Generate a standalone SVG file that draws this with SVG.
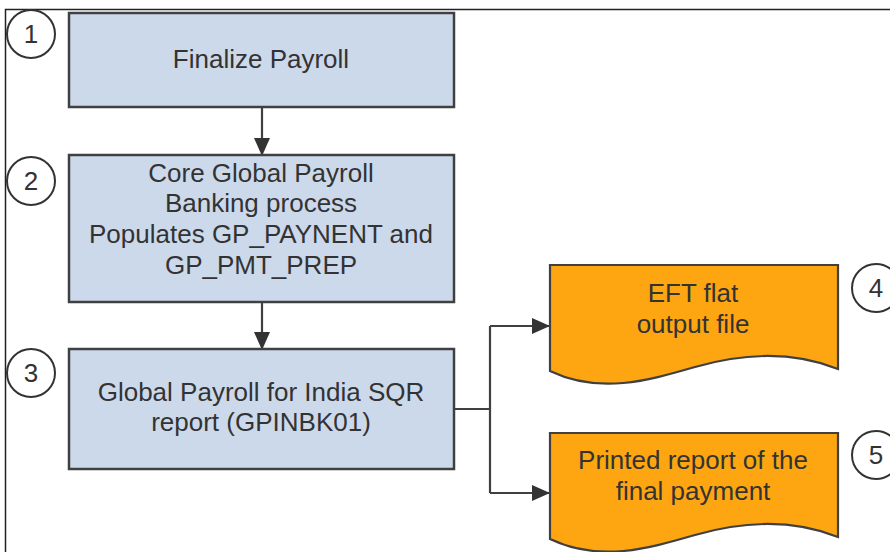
<svg xmlns="http://www.w3.org/2000/svg" width="890" height="552" viewBox="0 0 890 552">
<defs>
<style>
.box{fill:#CCD9EB;stroke:#404040;stroke-width:2.5}
.doc{fill:#FDA612;stroke:#404040;stroke-width:2.2}
.t{font-family:"Liberation Sans",Arial,sans-serif;font-size:26px;fill:#333333;text-anchor:middle}
.num{font-family:"Liberation Sans",Arial,sans-serif;font-size:26px;fill:#333333;text-anchor:middle}
.circ{fill:#ffffff;stroke:#333333;stroke-width:2}
.conn{fill:none;stroke:#404040;stroke-width:2.2}
</style>
<marker id="arr" markerUnits="userSpaceOnUse" markerWidth="18" markerHeight="18" viewBox="0 0 18 18" refX="17" refY="9" orient="auto">
<path d="M0,1 L18,9 L0,17 Z" fill="#333333"/>
</marker>
</defs>
<rect width="890" height="552" fill="#ffffff"/>
<path d="M5.5,552 V9.5 H890" fill="none" stroke="#222222" stroke-width="1.5"/>

<g id="connectors">
<path class="conn" d="M262,107 V155" marker-end="url(#arr)"/>
<path class="conn" d="M262,302 V349" marker-end="url(#arr)"/>
<path class="conn" d="M454,409 H490"/>
<path class="conn" d="M490,326 V493"/>
<path class="conn" d="M490,326 H549" marker-end="url(#arr)"/>
<path class="conn" d="M490,493 H549" marker-end="url(#arr)"/>
</g>

<g id="node1">
<rect class="box" x="69" y="13" width="385" height="94"/>
<text class="t" x="261" y="68">Finalize Payroll</text>
</g>
<g id="node2">
<rect class="box" x="69" y="155" width="385" height="147"/>
<text class="t" x="261" y="182">Core Global Payroll</text>
<text class="t" x="261" y="212">Banking process</text>
<text class="t" x="261" y="243">Populates GP_PAYNENT and</text>
<text class="t" x="261" y="274">GP_PMT_PREP</text>
</g>
<g id="node3">
<rect class="box" x="69" y="349" width="385" height="120"/>
<text class="t" x="261" y="401">Global Payroll for India SQR</text>
<text class="t" x="261" y="431">report (GPINBK01)</text>
</g>
<g id="node4">
<path class="doc" d="M550,265 H838 V369 C790,350 740,354 695,367 C650,380 600,395 550,371 Z"/>
<text class="t" x="693" y="302">EFT flat</text>
<text class="t" x="693" y="333">output file</text>
</g>
<g id="node5">
<path class="doc" d="M550,433 H838 V537 C790,518 740,522 695,535 C650,548 600,563 550,539 Z"/>
<text class="t" x="693" y="469">Printed report of the</text>
<text class="t" x="693" y="500">final payment</text>
</g>

<g id="step1"><circle class="circ" cx="31" cy="34" r="24"/><text class="num" x="31" y="43">1</text></g>
<g id="step2"><circle class="circ" cx="31" cy="181" r="24"/><text class="num" x="31" y="190">2</text></g>
<g id="step3"><circle class="circ" cx="31" cy="373" r="24"/><text class="num" x="31" y="382">3</text></g>
<g id="step4"><circle class="circ" cx="876" cy="288" r="24"/><text class="num" x="876" y="297">4</text></g>
<g id="step5"><circle class="circ" cx="876" cy="455" r="24"/><text class="num" x="876" y="464">5</text></g>
</svg>
